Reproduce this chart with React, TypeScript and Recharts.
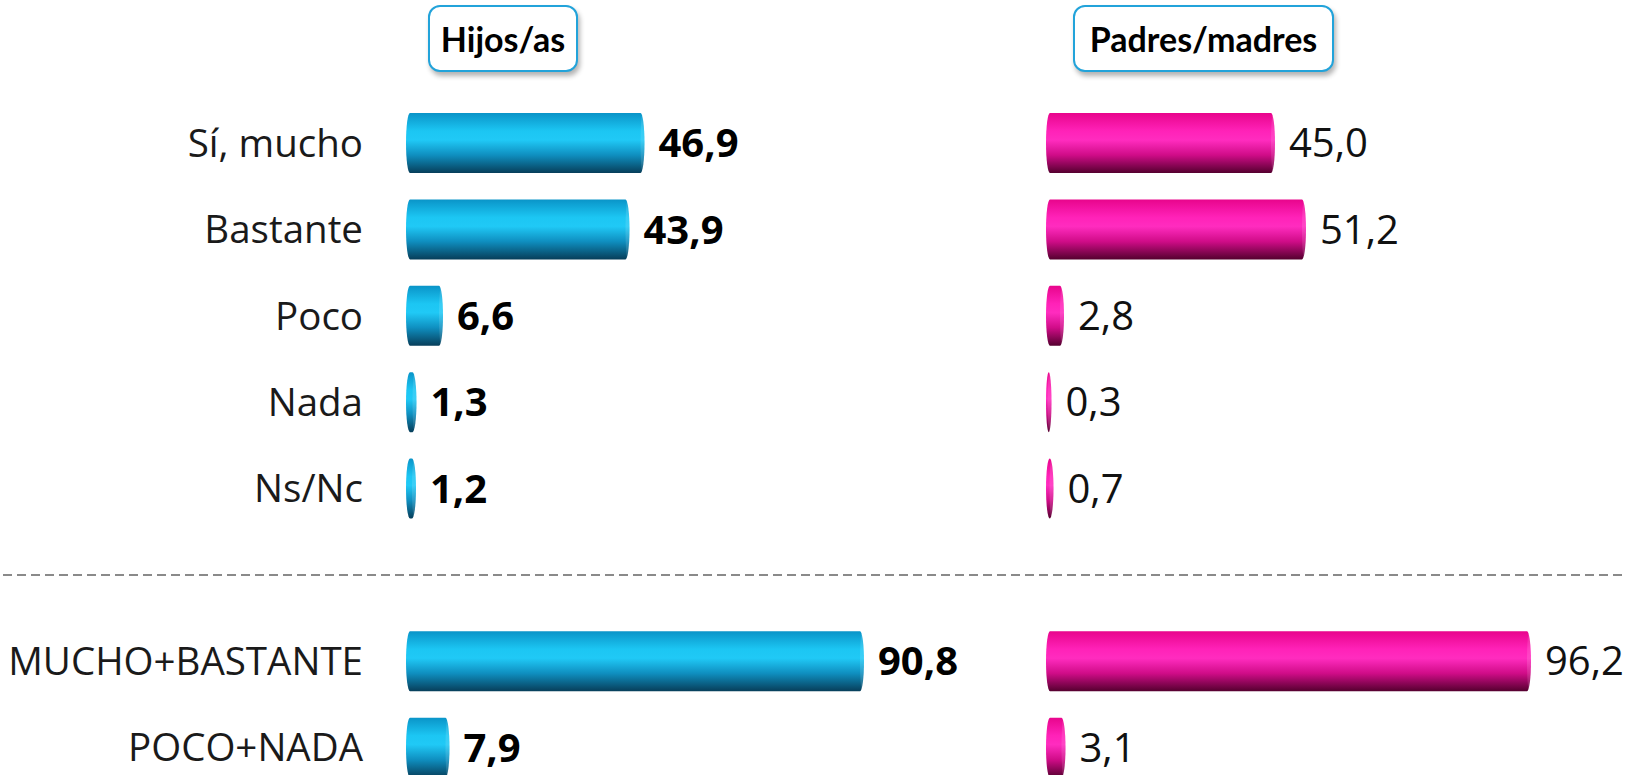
import {
  BarChart,
  Bar,
  XAxis,
  YAxis,
  LabelList,
  ReferenceLine,
} from "recharts";

const categories = [
  "Sí, mucho",
  "Bastante",
  "Poco",
  "Nada",
  "Ns/Nc",
  "sep",
  "MUCHO+BASTANTE",
  "POCO+NADA",
];
const hijos = [46.9, 43.9, 6.6, 1.3, 1.2, null, 90.8, 7.9];
const padres = [45.0, 51.2, 2.8, 0.3, 0.7, null, 96.2, 3.1];
const panelTitles = ["Hijos/as", "Padres/madres"];

const data = categories.map((cat, i) => ({
  cat,
  hijos: hijos[i],
  padres: padres[i],
}));

const FONT = "'Open Sans', sans-serif";
const TITLE_FONT = "Lato, 'Open Sans', sans-serif";

function fmt(v: any) {
  if (v === null || v === undefined) return "";
  return Number(v).toFixed(1).replace(".", ",");
}

function Cylinder(props: any) {
  const { x, y, width, height, fill } = props;
  if (!width && width !== 0) return null;
  const w = Math.max(width, 0);
  return (
    <g>
      <rect
        x={x - 2}
        y={y}
        width={w + 4}
        height={height}
        rx={4}
        ry={height / 2}
        fill={fill}
      />
      <ellipse
        cx={x + w}
        cy={y + height / 2}
        rx={2}
        ry={height / 2 - 1}
        fill="#ffffff"
        opacity={0.12}
      />
    </g>
  );
}

function TitleBox({ text, left, width }: { text: string; left: number; width: number }) {
  return (
    <div
      style={{
        position: "absolute",
        left,
        top: 5,
        width,
        height: 67,
        boxSizing: "border-box",
        border: "2px solid #22a3da",
        borderRadius: 12,
        background: "#fff",
        boxShadow: "2px 4px 5px rgba(0,0,0,0.3)",
        display: "flex",
        alignItems: "center",
        justifyContent: "center",
        fontFamily: TITLE_FONT,
        fontWeight: 700,
        fontSize: 34,
        color: "#000",
        zIndex: 2,
      }}
    >
      {text}
    </div>
  );
}

export default function App() {
  return (
    <div
      style={{
        position: "absolute",
        left: 0,
        top: 0,
        width: 1639,
        height: 775,
        overflow: "hidden",
        background: "#fff",
      }}
    >
      <TitleBox text={panelTitles[0]} left={428} width={150} />
      <TitleBox text={panelTitles[1]} left={1073} width={261} />
      <div style={{ position: "absolute", left: 0, top: 0 }}>
        <BarChart
          width={1639}
          height={800}
          data={data}
          layout="vertical"
          margin={{ top: 100, right: 0, bottom: 9, left: 0 }}
        >
          <defs>
            <linearGradient id="blueGrad" x1="0" y1="0" x2="0" y2="1">
              <stop offset="0%" stopColor="#0a94c8" />
              <stop offset="30%" stopColor="#1cc6f3" />
              <stop offset="45%" stopColor="#20c9f6" />
              <stop offset="70%" stopColor="#0f8fc0" />
              <stop offset="100%" stopColor="#073e5a" />
            </linearGradient>
            <linearGradient id="pinkGrad" x1="0" y1="0" x2="0" y2="1">
              <stop offset="0%" stopColor="#e8058c" />
              <stop offset="30%" stopColor="#ff22b8" />
              <stop offset="45%" stopColor="#ff2cbf" />
              <stop offset="70%" stopColor="#d00c88" />
              <stop offset="100%" stopColor="#55002f" />
            </linearGradient>
          </defs>
          <XAxis xAxisId="left" type="number" domain={[0, 246.2]} hide />
          <XAxis xAxisId="right" type="number" domain={[-128, 118.2]} hide />
          <YAxis
            yAxisId="l"
            type="category"
            dataKey="cat"
            width={408}
            axisLine={false}
            tickLine={false}
            tickMargin={39}
            tickFormatter={(v) => (v === "sep" ? "" : v)}
            tick={{ fontSize: 38.5, fill: "#1a1a1a", fontFamily: FONT }}
            interval={0}
          />
          <YAxis yAxisId="r" type="category" dataKey="cat" hide />
          <ReferenceLine
            xAxisId="left"
            yAxisId="l"
            ifOverflow="visible"
            segment={[
              { x: -81, y: "sep" },
              { x: 242.8, y: "sep" },
            ]}
            stroke="#8a8a8a"
            strokeWidth={2}
            strokeDasharray="9 5"
          />
          <Bar
            dataKey="hijos"
            xAxisId="left"
            yAxisId="l"
            barSize={60}
            fill="url(#blueGrad)"
            shape={<Cylinder />}
            isAnimationActive={false}
          >
            <LabelList
              dataKey="hijos"
              position="right"
              offset={16}
              formatter={fmt}
              style={{ fontSize: 40, fontWeight: 700, fill: "#000", fontFamily: FONT }}
            />
          </Bar>
          <Bar
            dataKey="padres"
            xAxisId="right"
            yAxisId="r"
            barSize={60}
            fill="url(#pinkGrad)"
            shape={<Cylinder />}
            isAnimationActive={false}
          >
            <LabelList
              dataKey="padres"
              position="right"
              offset={16}
              formatter={fmt}
              style={{ fontSize: 40, fill: "#111", fontFamily: FONT }}
            />
          </Bar>
        </BarChart>
      </div>
    </div>
  );
}
